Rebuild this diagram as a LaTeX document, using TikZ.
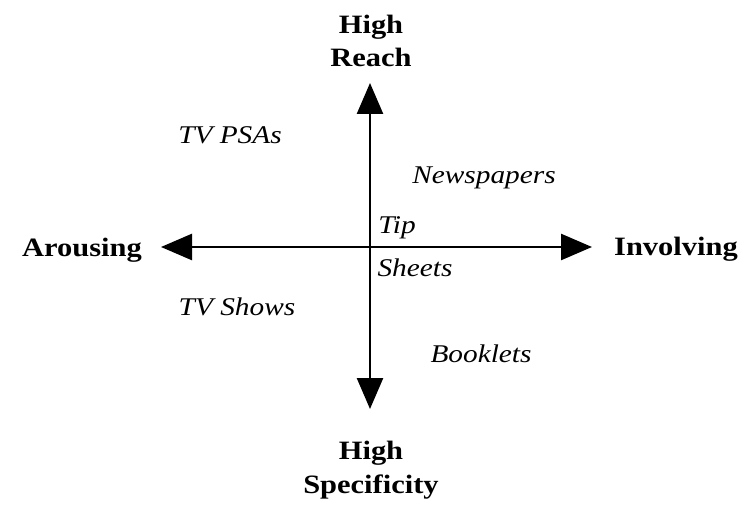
\documentclass[tikz,border=0pt]{standalone}
\usepackage{fontspec}
\setmainfont{Liberation Serif}[FakeStretch=1.15]
\usetikzlibrary{arrows.meta}
\tikzset{
  axis/.style={line width=2.6pt,-{Triangle[length=31pt,width=26pt]}},
  pole/.style={font=\fontsize{26.5}{33.5}\selectfont\bfseries,align=center,inner sep=0pt},
  medium/.style={font=\fontsize{25.5}{29}\selectfont\itshape,inner sep=0pt}
}
\begin{document}
\begin{tikzpicture}[x=1pt,y=1pt]
\useasboundingbox (0,0) rectangle (744,504);
\coordinate (O) at (370,257);
\coordinate (L) at (161,257);
\coordinate (R) at (592,257);
\coordinate (T) at (370,421);
\coordinate (B) at (370,95);
\draw[axis] (O) -- (L);
\draw[axis] (O) -- (R);
\draw[axis] (O) -- (T);
\draw[axis] (O) -- (B);
\node[pole] (reach) at (371,463) {High\\Reach};
\node[pole] (spec) at (371,34) {High\\Specificity};
\node[pole] (arousing) at (82,254) {Arousing};
\node[pole] (involving) at (676,255) {Involving};
\node[medium] (psa) at (230,369) {TV PSAs};
\node[medium] (news) at (484,326) {Newspapers};
\node[medium] (tip) at (397,276) {Tip};
\node[medium] (sheets) at (415,236) {Sheets};
\node[medium] (shows) at (237,197) {TV Shows};
\node[medium] (book) at (481,150) {Booklets};
\end{tikzpicture}
\end{document}
